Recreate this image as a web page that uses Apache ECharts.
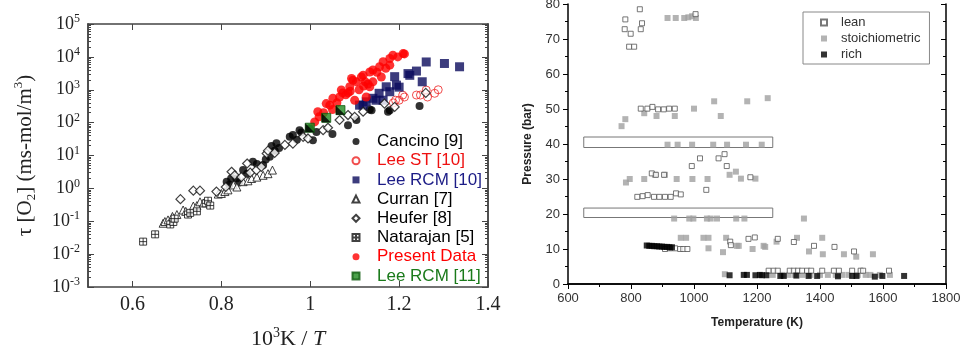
<!DOCTYPE html>
<html><head><meta charset="utf-8">
<script src="https://cdn.jsdelivr.net/npm/echarts@6.0.0/dist/echarts.min.js"></script>
<style>html,body{margin:0;padding:0;background:#fff}#c{width:960px;height:349px}</style>
</head><body><div id="c"></div>
<script>
// ---------- Left panel: tau[O2] vs 1000/T ----------
const xTicksL = [0.6, 0.8, 1, 1.2, 1.4];
const yDecades = [1e-3, 1e-2, 1e-1, 1, 10, 100, 1000, 10000, 100000];
const cancino = [[0.812,1.6],[0.818,1.3],[0.822,2.0],[0.834,2.0],[0.84,1.5],[0.849,3.6],[0.858,2.8],[0.871,6.5],[0.88,5.5],[0.894,5.1],[0.9,7.5],[0.909,9.2],[0.913,19.6],[0.92,14],[0.924,23.6],[0.93,17],[0.954,37],[0.961,42],[0.97,30],[0.976,59],[0.98,50],[0.999,68],[1.006,29],[1.014,52],[1.05,45],[1.085,83],[1.104,120],[1.134,250],[1.138,240],[1.175,213],[1.179,240],[1.246,320]];
const leeST = [[1.187,400],[1.192,480],[1.2,480],[1.208,690],[1.212,600],[1.239,690],[1.248,690],[1.261,980],[1.264,600],[1.28,780],[1.288,1000]];
const leeRCM10 = [[1.111,340],[1.119,340],[1.126,430],[1.141,550],[1.148,480],[1.155,780],[1.164,480],[1.171,1230],[1.179,870],[1.19,2500],[1.194,1380],[1.2,1200],[1.22,3100],[1.224,2750],[1.239,3700],[1.252,1750],[1.261,7000],[1.302,6300],[1.336,5000]];
const curran = [[0.669,0.087],[0.673,0.098],[0.68,0.11],[0.69,0.14],[0.7,0.16],[0.714,0.22],[0.72,0.2],[0.737,0.29],[0.745,0.3],[0.752,0.39],[0.76,0.36],[0.793,0.67],[0.8,0.7],[0.808,0.8],[0.815,0.9],[0.827,1.27],[0.835,1.1],[0.849,1.6],[0.86,1.7],[0.868,2.0],[0.88,2.2],[0.894,2.5],[0.905,2.8],[0.915,3.6]];
const heufer = [[0.708,0.47],[0.737,0.85],[0.752,0.85],[0.789,0.8],[0.81,1.1],[0.823,3.2],[0.83,2.5],[0.845,2.2],[0.858,5.7],[0.865,3.0],[0.879,3.6],[0.89,4.5],[0.902,11.5],[0.905,14],[0.92,12],[0.943,21],[0.961,23],[0.984,37],[0.995,33],[1.029,59],[1.04,70],[1.066,120],[1.085,170],[1.1,150],[1.119,214],[1.167,380],[1.19,300],[1.26,800]];
const natarajan = [[0.624,0.024],[0.651,0.04],[0.685,0.08],[0.692,0.095],[0.695,0.12],[0.725,0.16],[0.73,0.18],[0.745,0.2],[0.765,0.35],[0.77,0.42],[0.775,0.3]];
const presentData = [[1.01,105],[1.017,215],[1.02,150],[1.03,200],[1.036,380],[1.044,340],[1.05,250],[1.051,550],[1.06,400],[1.066,600],[1.07,980],[1.073,800],[1.08,700],[1.085,800],[1.089,1230],[1.09,900],[1.093,2200],[1.096,1950],[1.1,480],[1.104,1740],[1.11,1000],[1.115,2450],[1.119,2750],[1.12,1300],[1.124,1740],[1.126,600],[1.13,1500],[1.134,3470],[1.134,1230],[1.141,4000],[1.141,1740],[1.15,3400],[1.156,5000],[1.16,2450],[1.164,7100],[1.17,4500],[1.179,8900],[1.179,5600],[1.186,11200],[1.197,10000],[1.209,12600],[1.212,12300]];
const leeRCM11 = [[0.999,70],[1.036,140],[1.068,240]];

// ---------- Right panel: pressure vs temperature ----------
const lean = [[782,75.6],[828,78.5],[835,74.5],[780,72.8],[831,72.8],[799,71.5],[794,67.8],[810,67.8],[1005,77.1],
 [831,50.1],[852,50.1],[868,50.6],[886,49.9],[904,49.9],[921,50.1],[939,50.1],
 [1019,35.9],[1078,35.9],[1097,37.1],[993,33.7],[1104,33.7],[866,31.6],[879,31.2],[905,31.2],[1179,30.5],[1039,26.9],
 [820,24.9],[837,25.1],[853,25.4],[873,24.9],[890,24.9],[908,24.9],[926,24.9],[943,25.9],[958,25.6],
 [908,10.0],[924,10.2],[940,10.2],[956,10.0],[966,10.0],[979,10.0],
 [1115,12.1],[1117,11.1],[1173,12.9],[1193,13.3],[1266,12.9],[1317,12.0],[1381,10.9],[1446,10.6],[1508,9.3],
 [1237,3.8],[1253,3.8],[1266,3.8],[1304,3.8],[1317,3.8],[1330,3.8],[1343,3.8],[1359,3.8],[1372,3.8],[1407,3.8],[1444,3.8],[1460,3.8],[1502,3.8],[1529,3.8],[1537,3.8],[1619,3.8]];
const stoich = [[916,76],[942,76],[969,76],[982,76.2],[994,76.5],[1006,76],
 [770,45.1],[782,47.1],[842,48.8],[881,48],[939,48],[1000,50.1],[1064,52.2],[1085,48],[1169,52.2],[1234,53.1],
 [916,39.8],[948,39.8],[994,39.8],[1061,39.8],[1105,39.8],[1165,39.8],[1215,39.8],
 [784,29],[796,30],[842,30],[876,31.2],[908,31.2],[945,30],[995,30],[1043,30],[1113,31.2],[1133,32.1],[1149,30.1],[1195,30.1],
 [937,18.7],[985,18.7],[998,18.7],[1041,18.7],[1053,18.7],[1073,18.7],[1134,18.7],[1160,18.7],[1349,18.7],
 [958,13.2],[975,13.2],[1030,13.2],[1046,13.2],[1102,13.2],[1327,13.2],[1407,13.2],
 [1046,10.2],[1092,9.1],[1136,10.9],[1142,10.9],[1186,10],[1221,10.9],[1226,10.6],[1262,12.1],[1365,9.3],[1409,8.5],[1476,8.5],[1515,7.8],[1568,8.5],
 [1098,2.8],[1250,2.6],[1280,2.6],[1300,2.6],[1320,2.6],[1345,2.6],[1370,2.6],[1400,2.6],[1425,2.6],[1450,2.6],[1470,2.6],[1490,2.6],[1520,2.6],[1545,2.6],[1560,2.6],[1590,2.6],[1622,2.6]];
const rich = [[850,11.0],[858,10.9],[866,10.9],[874,10.8],[882,10.8],[890,10.7],[898,10.7],[906,10.6],[914,10.6],[922,10.5],[930,10.5],
 [1113,2.5],[1158,2.6],[1168,2.6],[1195,2.5],[1209,2.6],[1216,2.5],[1230,2.5],[1274,2.3],[1285,2.3],[1325,2.4],[1364,2.3],[1391,2.3],[1457,2.2],[1502,2.3],[1516,2.3],[1574,2.1],[1598,2.3],[1667,2.3]];
const boxes = [[650,39,1250,42],[650,19,1250,21.7]];

const yMinorL = [];
for (let e = -3; e <= 4; e++) for (let m = 2; m <= 9; m++) yMinorL.push(+(m * Math.pow(10, e)).toPrecision(3));

const serif = 'Liberation Serif, Times New Roman, serif';
const sans = 'Liberation Sans, Arial, sans-serif';
const axL = '#444';

const chart = echarts.init(document.getElementById('c'));
const supLabel = v => '{b|10}{s|' + Math.round(Math.log10(v)) + '}';

const logAxisBase = {
  type: 'log', logBase: 10, min: 0.001, max: 100000, gridIndex: 0,
  splitLine: { show: false }, axisLabel: { show: false },
  axisLine: { show: true, lineStyle: { color: axL, width: 1.5 } }
};

chart.setOption({
  animation: false,
  grid: [
    { left: 88, top: 24, width: 400, height: 263, containLabel: false, outerBoundsMode: 'none' },
    { left: 568, top: 4, width: 378, height: 280, containLabel: false, outerBoundsMode: 'none' }
  ],
  legend: [
    { orient: 'vertical', left: 351.5, top: 133, padding: 0, itemGap: 2.2, itemWidth: 7, itemHeight: 7,
      selectedMode: false, textStyle: { fontFamily: sans, fontSize: 17, lineHeight: 17, padding: [0, 0, 0, 12.5] },
      data: [
        { name: 'Cancino [9]', textStyle: { color: '#000' } },
        { name: 'Lee ST [10]', textStyle: { color: '#ee1111' } },
        { name: 'Lee RCM [10]', textStyle: { color: '#1c1c86' } },
        { name: 'Curran [7]', textStyle: { color: '#000' } },
        { name: 'Heufer [8]', textStyle: { color: '#000' } },
        { name: 'Natarajan [5]', textStyle: { color: '#000' } },
        { name: 'Present Data', textStyle: { color: '#ff0000' } },
        { name: 'Lee RCM [11]', textStyle: { color: '#1a7a1a' } }
      ] },
    { orient: 'vertical', left: 803, top: 12, padding: [4, 9, 3, 17], itemGap: 3, itemWidth: 6, itemHeight: 6,
      borderColor: '#888', borderWidth: 1, selectedMode: false,
      textStyle: { fontFamily: sans, fontSize: 13, lineHeight: 13, color: '#333', padding: [0, 0, 0, 9] },
      data: ['lean', 'stoichiometric', 'rich'] }
  ],
  xAxis: [
    { type: 'value', gridIndex: 0, min: 0.5, max: 1.4, position: 'bottom',
      axisLine: { lineStyle: { color: axL, width: 1.5 } },
      axisTick: { inside: true, length: 6, customValues: xTicksL, lineStyle: { color: axL } },
      axisLabel: { customValues: xTicksL, margin: 8, fontFamily: serif, fontSize: 20, color: '#222' },
      splitLine: { show: false },
      name: '{t|10}{u|3}{t|K / }{i|T}', nameLocation: 'middle', nameGap: 39,
      nameTextStyle: { rich: {
        t: { fontFamily: serif, fontSize: 22, color: '#222', lineHeight: 26 },
        u: { fontFamily: serif, fontSize: 14, color: '#222', verticalAlign: 'top', lineHeight: 14 },
        i: { fontFamily: serif, fontSize: 22, color: '#222', fontStyle: 'italic', lineHeight: 26 } } } },
    { type: 'value', gridIndex: 0, min: 0.5, max: 1.4, position: 'top',
      axisLine: { lineStyle: { color: axL, width: 1.5 } },
      axisTick: { inside: true, length: 6, customValues: xTicksL, lineStyle: { color: axL } },
      axisLabel: { show: false }, splitLine: { show: false } },
    { type: 'value', gridIndex: 1, min: 600, max: 1800, interval: 200, position: 'bottom',
      axisLine: { lineStyle: { color: '#000', width: 1.5 } },
      axisTick: { inside: false, length: 5, lineStyle: { color: '#000' } },
      minorTick: { show: true, splitNumber: 2, length: 3, lineStyle: { color: '#000' } },
      axisLabel: { margin: 8, fontFamily: sans, fontSize: 13, color: '#333', formatter: v => String(v) },
      splitLine: { show: false }, minorSplitLine: { show: false },
      name: 'Temperature (K)', nameLocation: 'middle', nameGap: 33,
      nameTextStyle: { fontFamily: sans, fontSize: 12, fontWeight: 'bold', color: '#222' } },
    { type: 'value', gridIndex: 1, min: 600, max: 1800, interval: 200, position: 'top',
      axisLine: { lineStyle: { color: '#000', width: 1.5 } },
      axisTick: { inside: true, length: 5, lineStyle: { color: '#000' } },
      minorTick: { show: true, splitNumber: 2, length: 3, lineStyle: { color: '#000' } },
      axisLabel: { show: false }, splitLine: { show: false } }
  ],
  yAxis: [
    Object.assign({}, logAxisBase, { position: 'left',
      axisTick: { inside: true, length: 6, customValues: yDecades, lineStyle: { color: axL } },
      axisLabel: { show: true, customValues: yDecades, margin: 8, formatter: supLabel,
        rich: { b: { fontFamily: serif, fontSize: 18, color: '#222', lineHeight: 22 },
                s: { fontFamily: serif, fontSize: 12, color: '#222', verticalAlign: 'top', lineHeight: 12 } } },
      name: '{t|τ [O}{d|2}{t|] (ms-mol/m}{u|3}{t|)}', nameLocation: 'middle', nameGap: 50, nameRotate: 90,
      nameTextStyle: { rich: {
        t: { fontFamily: serif, fontSize: 21, color: '#222', lineHeight: 26 },
        d: { fontFamily: serif, fontSize: 13, color: '#222', verticalAlign: 'bottom', lineHeight: 13 },
        u: { fontFamily: serif, fontSize: 13, color: '#222', verticalAlign: 'top', lineHeight: 13 } } } }),
    Object.assign({}, logAxisBase, { position: 'left',
      axisTick: { inside: true, length: 3, customValues: yMinorL, lineStyle: { color: axL } } }),
    Object.assign({}, logAxisBase, { position: 'right',
      axisTick: { inside: true, length: 6, customValues: yDecades, lineStyle: { color: axL } } }),
    Object.assign({}, logAxisBase, { position: 'right',
      axisTick: { inside: true, length: 3, customValues: yMinorL, lineStyle: { color: axL } } }),
    { type: 'value', gridIndex: 1, min: 0, max: 80, interval: 10, position: 'left',
      axisLine: { show: true, lineStyle: { color: '#000', width: 1.5 } },
      axisTick: { show: true, inside: false, length: 5, lineStyle: { color: '#000' } },
      minorTick: { show: true, splitNumber: 2, length: 3, lineStyle: { color: '#000' } },
      axisLabel: { margin: 8, fontFamily: sans, fontSize: 13, color: '#333' },
      splitLine: { show: false },
      name: 'Pressure (bar)', nameLocation: 'middle', nameGap: 34,
      nameTextStyle: { fontFamily: sans, fontSize: 12, fontWeight: 'bold', color: '#222' } },
    { type: 'value', gridIndex: 1, min: 0, max: 80, interval: 10, position: 'right',
      axisLine: { show: true, lineStyle: { color: '#000', width: 1.5 } },
      axisTick: { show: true, inside: true, length: 5, lineStyle: { color: '#000' } },
      minorTick: { show: true, splitNumber: 2, length: 3, lineStyle: { color: '#000' } },
      axisLabel: { show: false }, splitLine: { show: false } }
  ],
  series: [
    { name: 'Cancino [9]', type: 'scatter', xAxisIndex: 0, yAxisIndex: 0, data: cancino,
      symbol: 'circle', symbolSize: 8, itemStyle: { color: '#000' }, emphasis: { disabled: true } },
    { name: 'Lee ST [10]', type: 'scatter', xAxisIndex: 0, yAxisIndex: 0, data: leeST,
      symbol: 'circle', symbolSize: 8, itemStyle: { color: 'rgba(255,255,255,0)', borderColor: '#ee2222', borderWidth: 1 }, emphasis: { disabled: true } },
    { name: 'Lee RCM [10]', type: 'scatter', xAxisIndex: 0, yAxisIndex: 0, data: leeRCM10,
      symbol: 'rect', symbolSize: 9, itemStyle: { color: '#0b0b5c' }, emphasis: { disabled: true } },
    { name: 'Curran [7]', type: 'scatter', xAxisIndex: 0, yAxisIndex: 0, data: curran,
      symbol: 'triangle', symbolSize: 8, itemStyle: { color: '#fff', borderColor: '#111', borderWidth: 1 }, emphasis: { disabled: true } },
    { name: 'Heufer [8]', type: 'scatter', xAxisIndex: 0, yAxisIndex: 0, data: heufer,
      symbol: 'diamond', symbolSize: 9, itemStyle: { color: '#fff', borderColor: '#111', borderWidth: 1.2 }, emphasis: { disabled: true } },
    { name: 'Natarajan [5]', type: 'scatter', xAxisIndex: 0, yAxisIndex: 0, data: natarajan,
      symbol: 'path://M0,0L10,0L10,10L0,10Z M5,0L5,10 M0,5L10,5', symbolSize: 7,
      itemStyle: { color: '#fff', borderColor: '#111', borderWidth: 1 }, emphasis: { disabled: true } },
    { name: 'Present Data', type: 'scatter', xAxisIndex: 0, yAxisIndex: 0, data: presentData,
      symbol: 'circle', symbolSize: 9, itemStyle: { color: '#ff0000' }, emphasis: { disabled: true } },
    { name: 'Lee RCM [11]', type: 'scatter', xAxisIndex: 0, yAxisIndex: 0, data: leeRCM11,
      symbol: 'rect', symbolSize: 9, itemStyle: { color: '#1f8a1f', borderColor: '#0d5a0d', borderWidth: 1 }, emphasis: { disabled: true } },
    { name: 'Lee RCM [11] half', type: 'scatter', xAxisIndex: 0, yAxisIndex: 0, data: leeRCM11,
      symbol: 'path://M0,0L0,10L10,10Z', symbolSize: 9, itemStyle: { color: '#000' }, emphasis: { disabled: true } },

    { name: 'stoichiometric', type: 'scatter', xAxisIndex: 2, yAxisIndex: 4, data: stoich,
      symbol: 'rect', symbolSize: 6, itemStyle: { color: '#a0a0a0' }, emphasis: { disabled: true },
      markArea: { silent: true, label: { show: false },
        itemStyle: { color: 'rgba(0,0,0,0)', borderColor: '#777', borderWidth: 1 },
        data: boxes.map(b => [{ xAxis: b[0], yAxis: b[1] }, { xAxis: b[2], yAxis: b[3] }]) } },
    { name: 'lean', type: 'scatter', xAxisIndex: 2, yAxisIndex: 4, data: lean,
      symbol: 'rect', symbolSize: 5, itemStyle: { color: '#fff', borderColor: '#555', borderWidth: 1 }, emphasis: { disabled: true } },
    { name: 'rich', type: 'scatter', xAxisIndex: 2, yAxisIndex: 4, data: rich,
      symbol: 'rect', symbolSize: 6, itemStyle: { color: '#000' }, emphasis: { disabled: true } }
  ]
});
</script>
</body></html>
